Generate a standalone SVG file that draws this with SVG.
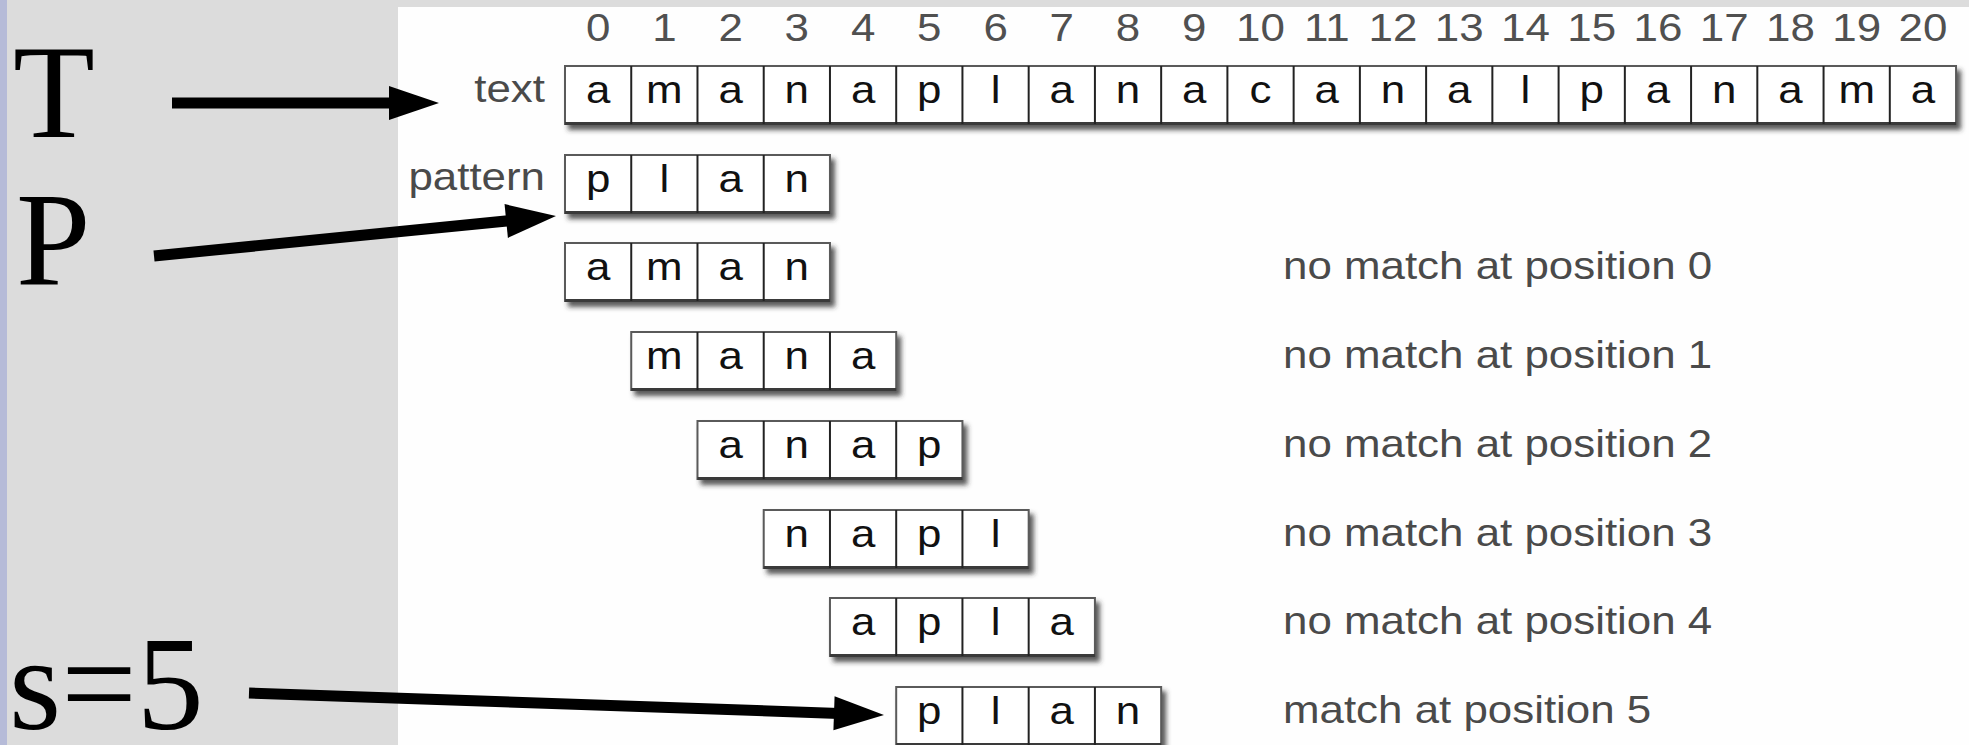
<svg xmlns="http://www.w3.org/2000/svg" width="1969" height="745" viewBox="0 0 1969 745">
  <style>
    .sans { font-family: "Liberation Sans", Arial, sans-serif; font-size: 38.5px; transform-box: fill-box; transform: scaleX(1.14); }
    .mid { text-anchor: middle; transform-origin: 50% 50%; }
    .left { text-anchor: start; transform-origin: 0% 50%; }
    .right { text-anchor: end; transform-origin: 100% 50%; }
    .idx { fill: #505050; }
    .ch { fill: #111; }
    .lbl { fill: #4a4a4a; }
    .frame { fill: #fff; stroke: #5a5a5a; stroke-width: 2; filter: url(#shadow); }
    .sep { stroke: #222; stroke-width: 2; }
    .base { stroke: #3a3a3a; stroke-width: 3; }
    .big { font-family: "Liberation Serif", "Times New Roman", serif; font-size: 134px; fill: #000; }
    .arrow { stroke: #000; stroke-width: 11; fill: none; marker-end: url(#head); }
  </style>
  <defs>
    <filter id="shadow" x="-5%" y="-20%" width="115%" height="170%">
      <feDropShadow dx="4" dy="5" stdDeviation="2.5" flood-color="#333" flood-opacity="0.8"/>
    </filter>
    <marker id="head" markerUnits="userSpaceOnUse" markerWidth="50" markerHeight="34" refX="5" refY="17" orient="auto" overflow="visible">
      <path d="M0,0 L50,17 L0,34 Z" fill="#000"/>
    </marker>
    <!-- four-cell strip used for the pattern and each shifted window -->
    <g id="strip4">
      <rect class="frame" x="0" y="0" width="264.96" height="58"/>
      <line class="base" x1="0" y1="57.5" x2="264.96" y2="57.5"/>
      <line class="sep" x1="66.24" y1="0" x2="66.24" y2="58"/>
      <line class="sep" x1="132.48" y1="0" x2="132.48" y2="58"/>
      <line class="sep" x1="198.72" y1="0" x2="198.72" y2="58"/>
    </g>
  </defs>

  <!-- backdrop -->
  <rect x="0" y="0" width="1969" height="745" fill="#dcdcdc"/>
  <rect x="0" y="0" width="7" height="745" fill="#b6bbd8"/>
  <rect x="398" y="7" width="1571" height="738" fill="#fefefe"/>

  <!-- index numbers -->
  <g id="indices" class="idx">
    <text class="sans mid" x="598.1" y="41">0</text>
    <text class="sans mid" x="664.4" y="41">1</text>
    <text class="sans mid" x="730.6" y="41">2</text>
    <text class="sans mid" x="796.8" y="41">3</text>
    <text class="sans mid" x="863.1" y="41">4</text>
    <text class="sans mid" x="929.3" y="41">5</text>
    <text class="sans mid" x="995.6" y="41">6</text>
    <text class="sans mid" x="1061.8" y="41">7</text>
    <text class="sans mid" x="1128.0" y="41">8</text>
    <text class="sans mid" x="1194.3" y="41">9</text>
    <text class="sans mid" x="1260.5" y="41">10</text>
    <text class="sans mid" x="1326.8" y="41">11</text>
    <text class="sans mid" x="1393.0" y="41">12</text>
    <text class="sans mid" x="1459.2" y="41">13</text>
    <text class="sans mid" x="1525.5" y="41">14</text>
    <text class="sans mid" x="1591.7" y="41">15</text>
    <text class="sans mid" x="1658.0" y="41">16</text>
    <text class="sans mid" x="1724.2" y="41">17</text>
    <text class="sans mid" x="1790.4" y="41">18</text>
    <text class="sans mid" x="1856.7" y="41">19</text>
    <text class="sans mid" x="1922.9" y="41">20</text>
  </g>

  <!-- text row -->
  <g id="text-row">
    <text class="sans right lbl" x="545" y="102">text</text>
    <rect class="frame" x="565" y="66" width="1391.04" height="58"/>
    <line class="base" x1="565" y1="123.5" x2="1956.04" y2="123.5"/>
    <g class="sep">
      <line x1="631.24" y1="66" x2="631.24" y2="124"/>
      <line x1="697.48" y1="66" x2="697.48" y2="124"/>
      <line x1="763.72" y1="66" x2="763.72" y2="124"/>
      <line x1="829.96" y1="66" x2="829.96" y2="124"/>
      <line x1="896.2" y1="66" x2="896.2" y2="124"/>
      <line x1="962.44" y1="66" x2="962.44" y2="124"/>
      <line x1="1028.68" y1="66" x2="1028.68" y2="124"/>
      <line x1="1094.92" y1="66" x2="1094.92" y2="124"/>
      <line x1="1161.16" y1="66" x2="1161.16" y2="124"/>
      <line x1="1227.4" y1="66" x2="1227.4" y2="124"/>
      <line x1="1293.64" y1="66" x2="1293.64" y2="124"/>
      <line x1="1359.88" y1="66" x2="1359.88" y2="124"/>
      <line x1="1426.12" y1="66" x2="1426.12" y2="124"/>
      <line x1="1492.36" y1="66" x2="1492.36" y2="124"/>
      <line x1="1558.6" y1="66" x2="1558.6" y2="124"/>
      <line x1="1624.84" y1="66" x2="1624.84" y2="124"/>
      <line x1="1691.08" y1="66" x2="1691.08" y2="124"/>
      <line x1="1757.32" y1="66" x2="1757.32" y2="124"/>
      <line x1="1823.56" y1="66" x2="1823.56" y2="124"/>
      <line x1="1889.8" y1="66" x2="1889.8" y2="124"/>
    </g>
    <g class="ch">
      <text class="sans mid" x="598.1" y="103">a</text>
      <text class="sans mid" x="664.4" y="103">m</text>
      <text class="sans mid" x="730.6" y="103">a</text>
      <text class="sans mid" x="796.8" y="103">n</text>
      <text class="sans mid" x="863.1" y="103">a</text>
      <text class="sans mid" x="929.3" y="103">p</text>
      <text class="sans mid" x="995.6" y="103">l</text>
      <text class="sans mid" x="1061.8" y="103">a</text>
      <text class="sans mid" x="1128.0" y="103">n</text>
      <text class="sans mid" x="1194.3" y="103">a</text>
      <text class="sans mid" x="1260.5" y="103">c</text>
      <text class="sans mid" x="1326.8" y="103">a</text>
      <text class="sans mid" x="1393.0" y="103">n</text>
      <text class="sans mid" x="1459.2" y="103">a</text>
      <text class="sans mid" x="1525.5" y="103">l</text>
      <text class="sans mid" x="1591.7" y="103">p</text>
      <text class="sans mid" x="1658.0" y="103">a</text>
      <text class="sans mid" x="1724.2" y="103">n</text>
      <text class="sans mid" x="1790.4" y="103">a</text>
      <text class="sans mid" x="1856.7" y="103">m</text>
      <text class="sans mid" x="1922.9" y="103">a</text>
    </g>
  </g>

  <!-- pattern row -->
  <g id="pattern-row">
    <text class="sans right lbl" x="545" y="190">pattern</text>
    <use href="#strip4" x="565" y="155"/>
    <g class="ch">
      <text class="sans mid" x="598.1" y="192">p</text>
      <text class="sans mid" x="664.4" y="192">l</text>
      <text class="sans mid" x="730.6" y="192">a</text>
      <text class="sans mid" x="796.8" y="192">n</text>
    </g>
  </g>

  <!-- shift 0 -->
  <g id="shift-0">
    <use href="#strip4" x="565" y="243"/>
    <g class="ch">
      <text class="sans mid" x="598.1" y="280">a</text>
      <text class="sans mid" x="664.4" y="280">m</text>
      <text class="sans mid" x="730.6" y="280">a</text>
      <text class="sans mid" x="796.8" y="280">n</text>
    </g>
    <text class="sans left lbl" x="1283" y="279">no match at position 0</text>
  </g>

  <!-- shift 1 -->
  <g id="shift-1">
    <use href="#strip4" x="631.24" y="332"/>
    <g class="ch">
      <text class="sans mid" x="664.4" y="369">m</text>
      <text class="sans mid" x="730.6" y="369">a</text>
      <text class="sans mid" x="796.8" y="369">n</text>
      <text class="sans mid" x="863.1" y="369">a</text>
    </g>
    <text class="sans left lbl" x="1283" y="368">no match at position 1</text>
  </g>

  <!-- shift 2 -->
  <g id="shift-2">
    <use href="#strip4" x="697.48" y="421"/>
    <g class="ch">
      <text class="sans mid" x="730.6" y="458">a</text>
      <text class="sans mid" x="796.8" y="458">n</text>
      <text class="sans mid" x="863.1" y="458">a</text>
      <text class="sans mid" x="929.3" y="458">p</text>
    </g>
    <text class="sans left lbl" x="1283" y="457">no match at position 2</text>
  </g>

  <!-- shift 3 -->
  <g id="shift-3">
    <use href="#strip4" x="763.72" y="510"/>
    <g class="ch">
      <text class="sans mid" x="796.8" y="547">n</text>
      <text class="sans mid" x="863.1" y="547">a</text>
      <text class="sans mid" x="929.3" y="547">p</text>
      <text class="sans mid" x="995.6" y="547">l</text>
    </g>
    <text class="sans left lbl" x="1283" y="546">no match at position 3</text>
  </g>

  <!-- shift 4 -->
  <g id="shift-4">
    <use href="#strip4" x="829.96" y="598"/>
    <g class="ch">
      <text class="sans mid" x="863.1" y="635">a</text>
      <text class="sans mid" x="929.3" y="635">p</text>
      <text class="sans mid" x="995.6" y="635">l</text>
      <text class="sans mid" x="1061.8" y="635">a</text>
    </g>
    <text class="sans left lbl" x="1283" y="634">no match at position 4</text>
  </g>

  <!-- shift 5 -->
  <g id="shift-5">
    <use href="#strip4" x="896.2" y="687"/>
    <g class="ch">
      <text class="sans mid" x="929.3" y="724">p</text>
      <text class="sans mid" x="995.6" y="724">l</text>
      <text class="sans mid" x="1061.8" y="724">a</text>
      <text class="sans mid" x="1128.0" y="724">n</text>
    </g>
    <text class="sans left lbl" x="1283" y="723">match at position 5</text>
  </g>

  <!-- symbols -->
  <g id="label-T"><text class="big" x="13" y="137">T</text></g>
  <g id="label-P"><text class="big" x="16" y="284">P</text></g>
  <g id="label-s"><text class="big" x="9" y="729">s=5</text></g>

  <!-- pointers -->
  <g id="connectors">
    <line class="arrow" x1="172" y1="103" x2="394" y2="103"/>
    <line class="arrow" x1="154" y1="256" x2="511.2" y2="220.5"/>
    <line class="arrow" x1="249" y1="693" x2="839.0" y2="713.4"/>
  </g>
</svg>
